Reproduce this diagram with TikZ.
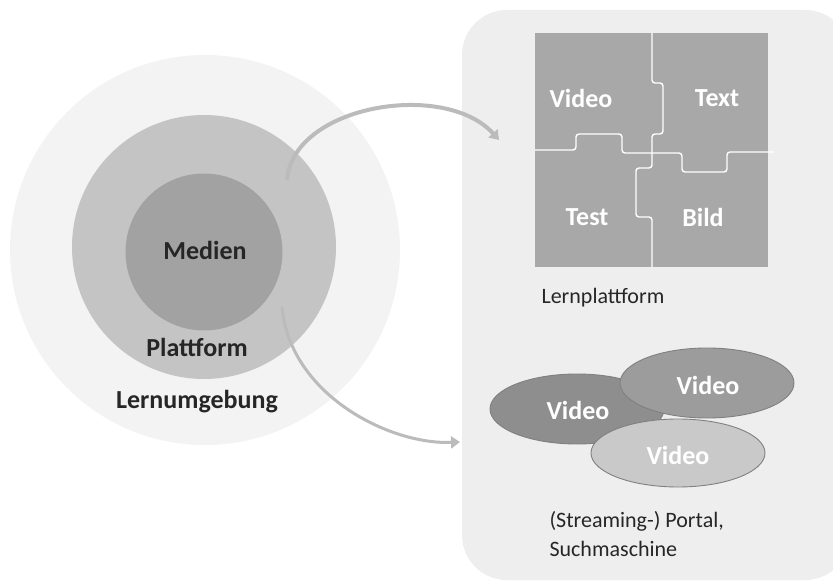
\documentclass[tikz,border=0pt]{standalone}
\usepackage{fontspec}
\setmainfont{Carlito}
\usetikzlibrary{shapes.geometric,arrows.meta}
\definecolor{panelbg}{HTML}{EEEEEE}
\definecolor{outerc}{HTML}{F3F3F3}
\definecolor{midc}{HTML}{C4C4C4}
\definecolor{innerc}{HTML}{A2A2A2}
\definecolor{puzc}{HTML}{A8A8A8}
\definecolor{ellA}{HTML}{8E8E8E}
\definecolor{ellB}{HTML}{9C9C9C}
\definecolor{ellC}{HTML}{C9C9C9}
\definecolor{arrc}{HTML}{BBBBBB}
\begin{document}
\begin{tikzpicture}[x=1pt,y=-1pt,
  lbl/.style={font=\bfseries\fontsize{26}{29}\selectfont, text=black!85},
  wlbl/.style={font=\bfseries\fontsize{26}{29}\selectfont, text=white},
  captxt/.style={font=\fontsize{22}{29}\selectfont, text=black!85, align=left},
  ell/.style={ellipse, draw=black!50, line width=0.9pt, minimum width=174pt, minimum height=70pt},
  arr/.style={draw=arrc, line width=4pt, -{Triangle[width=12pt,length=9pt]}},
  seam/.style={draw=white, line width=1.4pt, rounded corners=3pt}]
\useasboundingbox (0,0) rectangle (833,588);
\fill[white] (0,0) rectangle (833,588);
% right panel
\fill[panelbg, rounded corners=45pt] (462,10) rectangle (850,580);
% circles
\node[circle, fill=outerc, minimum size=390pt, inner sep=0pt] (outer) at (205,250) {};
\node[circle, fill=midc, minimum size=264pt, inner sep=0pt] (mid) at (204,247) {};
\node[circle, fill=innerc, minimum size=157pt, inner sep=0pt] (inner) at (204,252) {};
\node[lbl] (medien) at (205,250) {Medien};
\node[lbl] (plattform) at (197,347) {Plattform};
\node[lbl] (lernumg) at (197,402) {Lernumgebung};
% puzzle
\node[rectangle, fill=puzc, minimum width=233pt, minimum height=234pt, inner sep=0pt] (puzzle) at (651.5,150) {};
\draw[seam] (652,33) -- (652,83) -- (663,83) -- (663,134) -- (652,134) -- (652,152);
\draw[seam] (652,152) -- (652,168) -- (636,168) -- (636,217) -- (652,217) -- (652,267);
\draw[seam] (535,150) -- (576,150) -- (576,134) -- (622,134) -- (622,153) -- (682,153) -- (682,172) -- (727,172) -- (727,152) -- (774,152);
\node[wlbl] (pvideo) at (581,98) {Video};
\node[wlbl] (ptext) at (717,98) {Text};
\node[wlbl] (ptest) at (587,217) {Test};
\node[wlbl] (pbild) at (703,217) {Bild};
\node[captxt, anchor=west] (lernpl) at (538,298) {Lernplattform};
% ellipses
\node[ell, fill=ellA] (e1) at (577,409) {};
\node[ell, fill=ellB] (e2) at (707,383) {};
\node[ell, fill=ellC, minimum height=68pt] (e3) at (678,453) {};
\node[wlbl] (v1) at (578,410) {Video};
\node[wlbl] (v2) at (708,385) {Video};
\node[wlbl] (v3) at (678,455) {Video};
\node[captxt, anchor=north west] (portal) at (546,508) {(Streaming-) Portal,\\Suchmaschine};
% arrows
\coordinate (a1s) at (287,180);
\coordinate (a1e) at (499,140);
\coordinate (a2s) at (282,307);
\coordinate (a2e) at (460,442);
\draw[arr] (a1s) .. controls (293,105) and (445,80) .. (a1e);
\draw[arr, line width=3pt] (a2s) .. controls (290,395) and (390,445) .. (a2e);
\end{tikzpicture}
\end{document}
